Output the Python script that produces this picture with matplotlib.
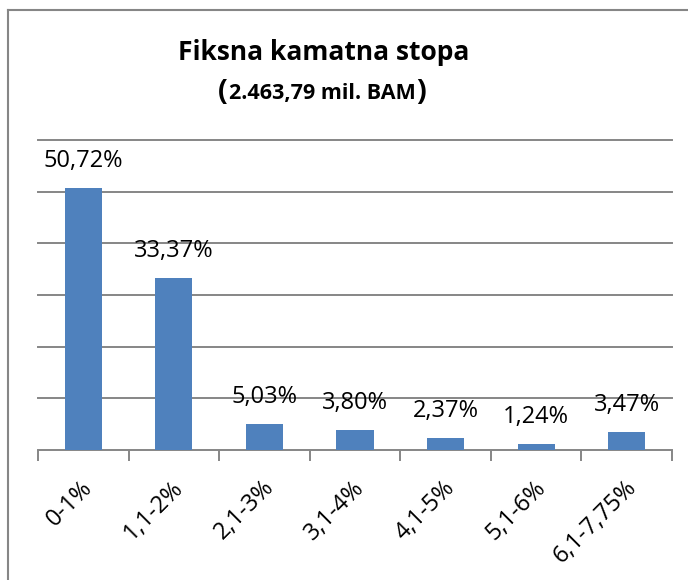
import matplotlib
matplotlib.use("Agg")
import matplotlib.pyplot as plt
from matplotlib.lines import Line2D

categories = ["0-1%", "1,1-2%", "2,1-3%", "3,1-4%", "4,1-5%", "5,1-6%", "6,1-7,75%"]
values = [50.72, 33.37, 5.03, 3.80, 2.37, 1.24, 3.47]
value_labels = ["50,72%", "33,37%", "5,03%", "3,80%", "2,37%", "1,24%", "3,47%"]
title = "Fiksna kamatna stopa"
subtitle = "2.463,79 mil. BAM"

W, H = 688, 580
fig = plt.figure(figsize=(W / 100, H / 100), dpi=100)
FONT = "Open Sans"

def fx(px):
    return px / W

def fy(py):
    return 1 - py / H

ax = fig.add_axes([fx(38), fy(450), fx(672) - fx(38), fy(140) - fy(450)])
x = list(range(len(categories)))
ax.bar(x, values, width=0.41, color="#4F81BD", zorder=3)
ax.set_xlim(-0.5, len(categories) - 0.5)
ax.set_ylim(0, 60)
ax.set_yticks([10, 20, 30, 40, 50, 60])
ax.yaxis.grid(True, color="#868686", linewidth=1.4, zorder=0)
for gl in ax.get_ygridlines():
    gl.set_clip_on(False)
ax.tick_params(axis="y", length=0, labelleft=False)
for s in ["top", "right", "left"]:
    ax.spines[s].set_visible(False)
ax.spines["bottom"].set_color("#868686")
ax.spines["bottom"].set_linewidth(1.4)
ax.set_xticks([i - 0.5 for i in range(len(categories) + 1)])
ax.set_xticklabels([])
ax.tick_params(axis="x", length=8, width=1.4, color="#868686")

for xi, v, lab in zip(x, values, value_labels):
    ax.annotate(lab, (xi, v), xytext=(0, 27 * 0.72), textcoords="offset points",
                ha="center", va="center", fontsize=17, family=FONT, color="black")

for xi, lab in zip(x, categories):
    ax.annotate(lab, (xi, 0), xytext=(6 * 0.72, -34 * 0.72), textcoords="offset points",
                ha="right", va="center", rotation=45, rotation_mode="anchor",
                fontsize=17, family=FONT, color="black")

fig.text(fx(324), fy(53), title, ha="center", va="center", fontsize=19,
         fontweight="bold", family=FONT)

# subtitle with larger parentheses
renderer = fig.canvas.get_renderer()
mid = fig.text(fx(322), fy(93), subtitle, ha="center", va="center", fontsize=15.5,
               fontweight="bold", family=FONT)
bb = mid.get_window_extent(renderer)
fig.text(bb.x0 / W - fx(1), fy(92), "(", ha="right", va="center", fontsize=21,
         fontweight="bold", family=FONT)
fig.text(bb.x1 / W + fx(1), fy(92), ")", ha="left", va="center", fontsize=21,
         fontweight="bold", family=FONT)

fig.add_artist(Line2D([fx(7.5), fx(7.5)], [fy(9.5), 0], transform=fig.transFigure,
                      color="#868686", linewidth=1.5))
fig.add_artist(Line2D([fx(7.5), 1], [fy(9.5), fy(9.5)], transform=fig.transFigure,
                      color="#868686", linewidth=1.5))

fig.savefig("out.png", dpi=100)
